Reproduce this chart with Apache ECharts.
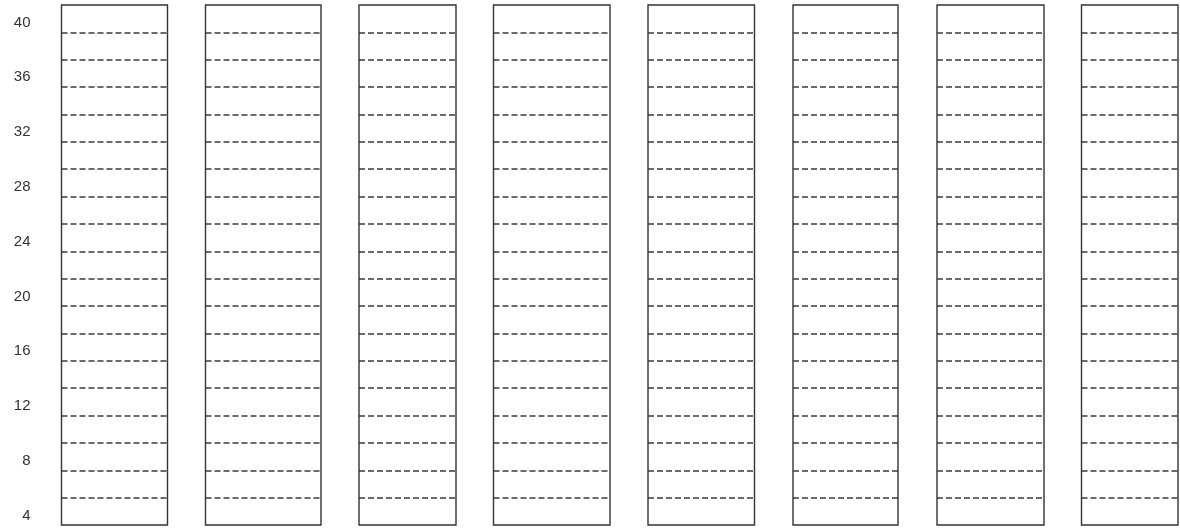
<!DOCTYPE html>
<html>
<head>
<meta charset="utf-8">
<script src="https://cdn.jsdelivr.net/npm/echarts@6/dist/echarts.min.js"></script>
<style>
  html, body { margin: 0; padding: 0; background: #ffffff; }
  #chart { width: 1180px; height: 529px; }
</style>
</head>
<body>
<div id="chart"></div>
<script>
// Tick labels shown on the left axis
const yTickLabels = [4, 8, 12, 16, 20, 24, 28, 32, 36, 40];
// Panels (empty frames) – one entry per panel
const panels = ['P1', 'P2', 'P3', 'P4', 'P5', 'P6', 'P7', 'P8'];
// Number of dashed-row intervals inside each panel
const rowCount = 19;

// layout (pixels) – not data
const panelBoxes = [
  [61.5, 106], [205.5, 115.5], [359, 97], [493.5, 116.5],
  [648, 106.5], [793, 105], [937, 107], [1081.5, 96.5]
];
const panelTop = 5, panelBottom = 4;

const chart = echarts.init(document.getElementById('chart'), null, { renderer: 'canvas' });

const grids = [], xAxes = [], yAxes = [], series = [];
panels.forEach((name, i) => {
  grids.push({
    left: panelBoxes[i][0], width: panelBoxes[i][1], top: panelTop, bottom: panelBottom,
    show: true, borderColor: '#333333', borderWidth: 1.4, backgroundColor: 'transparent', z: 3
  });
  xAxes.push({ gridIndex: i, type: 'value', min: 0, max: 1, show: false });
  yAxes.push({
    gridIndex: i, type: 'value', min: 0, max: rowCount, interval: 1,
    axisLine: { show: false }, axisTick: { show: false }, axisLabel: { show: false },
    splitLine: { show: true, showMinLine: false, showMaxLine: false,
      lineStyle: { type: [6, 3], color: '#3c3c3c', width: 1.6 } }
  });
  series.push({ type: 'line', xAxisIndex: i, yAxisIndex: i, data: [], silent: true });
});

// label grid (tick labels 4..40)
const li = panels.length;
grids.push({ left: 61.5, width: 106, top: 22.5, bottom: 13.5, show: false });
xAxes.push({ gridIndex: li, type: 'value', min: 0, max: 1, show: false });
yAxes.push({
  gridIndex: li, type: 'value',
  min: yTickLabels[0], max: yTickLabels[yTickLabels.length - 1],
  interval: yTickLabels[1] - yTickLabels[0],
  axisLine: { show: false }, axisTick: { show: false }, splitLine: { show: false },
  axisLabel: {
    show: true, margin: 31, color: '#333333', fontSize: 15,
    fontFamily: 'Liberation Sans, Arial, sans-serif',
    formatter: v => (yTickLabels.includes(v) ? String(v) : '')
  }
});
series.push({ type: 'line', xAxisIndex: li, yAxisIndex: li, data: [], silent: true });

chart.setOption({
  animation: false,
  backgroundColor: '#ffffff',
  grid: grids, xAxis: xAxes, yAxis: yAxes, series: series
});
</script>
</body>
</html>
